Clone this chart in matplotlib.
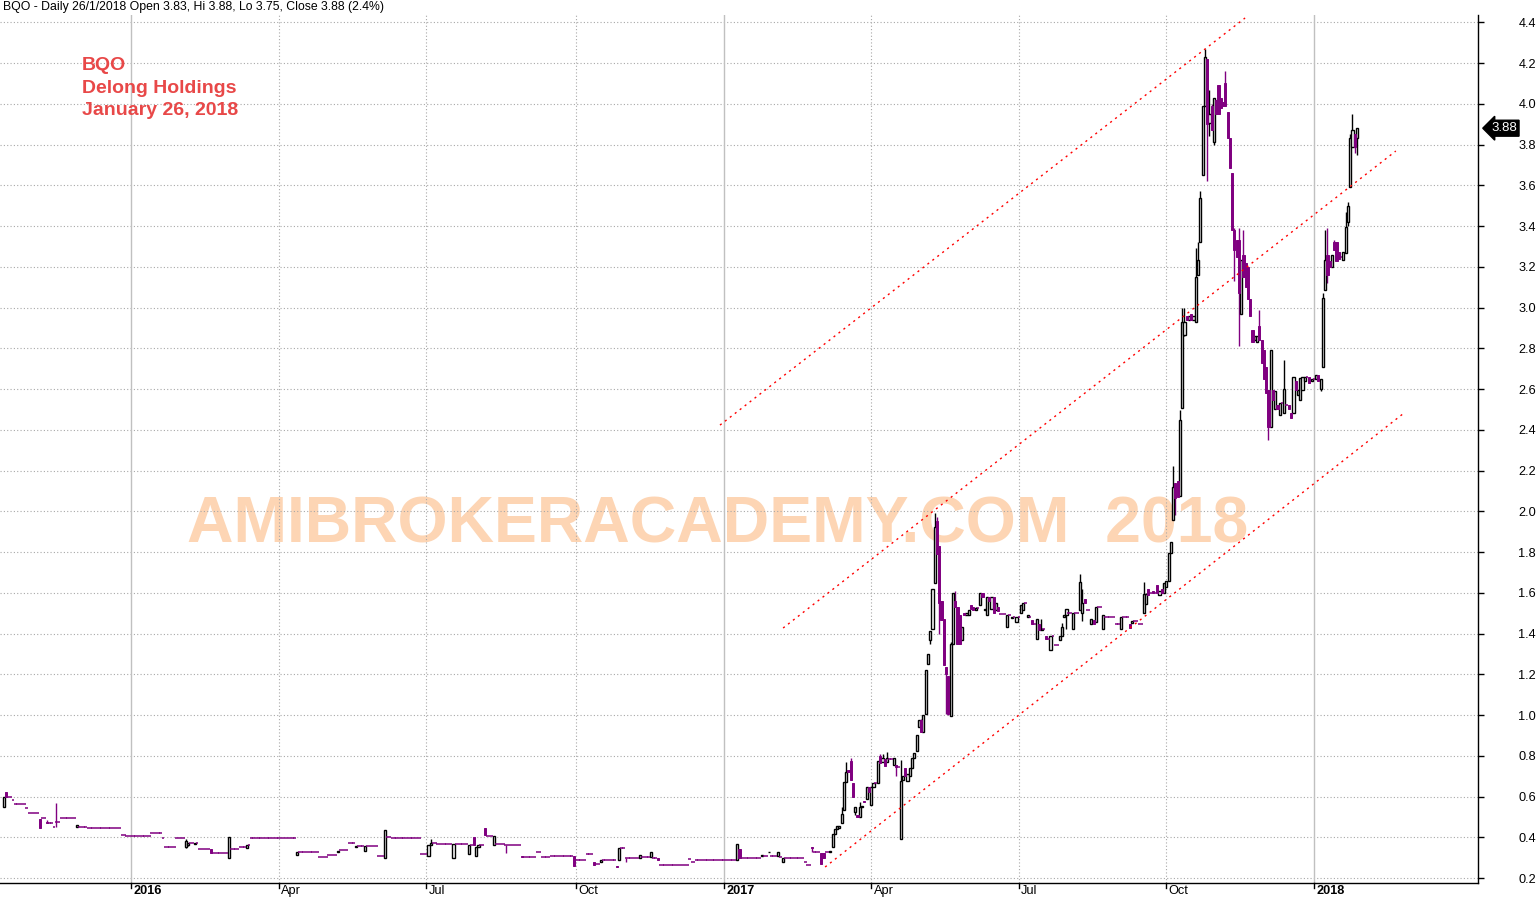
import numpy as np
import pandas as pd
import matplotlib
matplotlib.use("Agg")
import matplotlib.pyplot as plt
from matplotlib.transforms import blended_transform_factory, ScaledTranslation

plt.rcParams["font.family"] = ["Liberation Sans", "DejaVu Sans"]

ticker = "BQO"
company = "Delong Holdings"
first_day = "2015-10-15"
last_day = "2018-01-26"

# candles: (trading day index, open, high, low, close)
bars_2015 = [
    (0, .55, .60, .55, .60), (1, .62, .62, .60, .60), (16, .49, .49, .445, .445),
    (19, .475, .485, .47, .47), (23, .475, .57, .45, .475), (32, .45, .46, .45, .46),
]
bars_2016 = [
    (80, .35, .39, .345, .38), (81, .36, .37, .355, .37), (84, .365, .37, .365, .37),
    (91, .342, .342, .321, .321), (99, .30, .40, .30, .40), (107, .345, .36, .345, .36),
    (129, .313, .327, .313, .327), (147, .33, .335, .33, .335), (155, .35, .357, .35, .357),
    (159, .335, .357, .335, .357), (168, .30, .435, .30, .435), (187, .31, .36, .31, .36),
    (188, .36, .39, .36, .37), (198, .30, .366, .30, .366), (205, .32, .36, .32, .36),
    (207, .40, .40, .36, .36), (208, .31, .35, .31, .35), (209, .35, .36, .35, .36),
    (212, .445, .445, .41, .41), (216, .36, .408, .36, .408), (221, .36, .36, .325, .36),
    (228, .31, .31, .305, .305), (251, .31, .31, .26, .26), (260, .28, .28, .264, .264),
    (263, .278, .288, .278, .288), (270, .26, .26, .252, .252), (271, .288, .347, .288, .347),
    (274, .297, .297, .28, .297), (280, .297, .313, .297, .313), (285, .302, .328, .302, .328),
    (288, .297, .297, .288, .288),
]
bars_2017a = [
    (323, .288, .366, .288, .366), (324, .34, .34, .297, .297), (334, .31, .313, .31, .313),
    (337, .328, .33, .328, .33), (341, .31, .328, .31, .328), (343, .28, .297, .28, .297),
    (356, .35, .35, .33, .345), (360, .325, .325, .27, .27), (361, .325, .325, .30, .30),
    (364, .33, .335, .33, .335), (365, .353, .415, .353, .415), (366, .415, .44, .415, .44),
    (367, .44, .455, .44, .455), (368, .445, .455, .445, .455), (369, .47, .55, .47, .514),
    (370, .533, .672, .533, .672), (371, .672, .77, .672, .72), (372, .73, .73, .72, .72),
    (373, .775, .79, .68, .68), (374, .665, .665, .60, .60), (375, .525, .547, .51, .547),
    (376, .51, .51, .50, .50), (377, .50, .572, .50, .547), (378, .547, .555, .547, .555),
    (379, .58, .58, .575, .575), (380, .588, .647, .588, .647), (381, .647, .647, .62, .62),
    (382, .558, .647, .558, .647), (383, .647, .665, .647, .665), (385, .665, .775, .665, .775),
    (386, .80, .81, .762, .762), (387, .77, .81, .77, .79), (388, .786, .786, .75, .75),
    (389, .77, .82, .77, .79), (392, .754, .79, .754, .79), (393, .755, .755, .70, .745),
    (395, .39, .78, .39, .675), (396, .68, .70, .68, .70), (397, .74, .74, .70, .70),
    (398, .675, .71, .675, .71), (399, .70, .74, .70, .74), (400, .74, .79, .74, .79),
    (401, .79, .815, .79, .815), (402, .825, .90, .825, .90), (403, .94, .975, .94, .975),
    (404, .975, .98, .915, .915), (405, .915, 1.0, .915, 1.0), (406, 1.007, 1.22, 1.007, 1.22),
    (407, 1.25, 1.30, 1.25, 1.30), (408, 1.367, 1.41, 1.35, 1.41), (409, 1.42, 1.62, 1.42, 1.62),
    (410, 1.646, 1.99, 1.646, 1.925), (411, 1.95, 1.97, 1.79, 1.79), (412, 1.83, 1.83, 1.40, 1.55),
    (413, 1.56, 1.56, 1.465, 1.465), (414, 1.47, 1.47, 1.245, 1.245), (415, 1.236, 1.236, 1.007, 1.203),
    (416, 1.19, 1.19, 1.0, 1.007), (417, .994, 1.36, .994, 1.35), (418, 1.35, 1.60, 1.35, 1.597),
    (419, 1.56, 1.61, 1.53, 1.53), (420, 1.53, 1.53, 1.35, 1.35), (421, 1.49, 1.49, 1.35, 1.35),
    (422, 1.367, 1.43, 1.367, 1.43), (423, 1.50, 1.50, 1.49, 1.49), (424, 1.49, 1.50, 1.49, 1.50),
    (425, 1.49, 1.515, 1.49, 1.515), (426, 1.54, 1.54, 1.52, 1.52), (427, 1.53, 1.53, 1.515, 1.515),
    (428, 1.515, 1.53, 1.515, 1.525), (430, 1.54, 1.597, 1.54, 1.597), (431, 1.597, 1.60, 1.58, 1.58),
    (432, 1.515, 1.52, 1.515, 1.52), (433, 1.49, 1.58, 1.49, 1.58), (434, 1.58, 1.58, 1.56, 1.56),
    (435, 1.52, 1.58, 1.52, 1.58), (436, 1.58, 1.58, 1.50, 1.50), (437, 1.515, 1.55, 1.515, 1.55),
    (438, 1.53, 1.53, 1.51, 1.51), (442, 1.43, 1.49, 1.43, 1.49), (444, 1.475, 1.48, 1.475, 1.48),
    (446, 1.455, 1.48, 1.455, 1.48),
]
bars_2017b = [
    (448, 1.50, 1.54, 1.50, 1.54), (449, 1.515, 1.55, 1.515, 1.55), (451, 1.48, 1.49, 1.48, 1.49),
    (453, 1.465, 1.465, 1.445, 1.445), (455, 1.375, 1.47, 1.375, 1.47), (456, 1.445, 1.445, 1.415, 1.415),
    (457, 1.415, 1.47, 1.415, 1.42), (459, 1.39, 1.39, 1.375, 1.375), (461, 1.32, 1.39, 1.32, 1.39),
    (465, 1.367, 1.39, 1.367, 1.39), (466, 1.39, 1.45, 1.39, 1.433), (467, 1.48, 1.49, 1.48, 1.49),
    (468, 1.49, 1.52, 1.42, 1.52), (471, 1.42, 1.50, 1.42, 1.50), (474, 1.515, 1.69, 1.515, 1.654),
    (475, 1.50, 1.62, 1.46, 1.55), (476, 1.57, 1.57, 1.55, 1.55), (479, 1.445, 1.47, 1.445, 1.47),
    (480, 1.465, 1.465, 1.445, 1.445), (481, 1.455, 1.53, 1.455, 1.53), (484, 1.42, 1.49, 1.42, 1.49),
    (492, 1.42, 1.48, 1.42, 1.48), (496, 1.445, 1.445, 1.425, 1.425), (497, 1.45, 1.46, 1.45, 1.46),
    (502, 1.50, 1.655, 1.50, 1.596), (503, 1.545, 1.60, 1.545, 1.596), (504, 1.62, 1.62, 1.59, 1.59),
    (506, 1.61, 1.61, 1.60, 1.60), (508, 1.64, 1.64, 1.60, 1.60), (509, 1.59, 1.61, 1.59, 1.61),
    (510, 1.62, 1.62, 1.60, 1.60), (511, 1.60, 1.65, 1.60, 1.65), (512, 1.63, 1.66, 1.63, 1.66),
    (513, 1.656, 1.795, 1.656, 1.795), (514, 1.795, 1.85, 1.795, 1.85), (515, 1.958, 2.22, 1.958, 2.12),
    (516, 2.14, 2.14, 1.98, 2.065), (517, 2.15, 2.15, 2.07, 2.07), (518, 2.073, 2.497, 2.073, 2.448),
    (519, 2.505, 3.0, 2.505, 2.93), (520, 2.865, 3.0, 2.86, 2.93), (521, 2.96, 2.96, 2.94, 2.94),
    (522, 2.94, 2.96, 2.94, 2.96), (523, 2.97, 2.97, 2.94, 2.94), (524, 2.94, 2.96, 2.94, 2.96),
    (525, 2.93, 3.29, 2.93, 3.148), (526, 3.16, 3.32, 3.16, 3.233), (527, 3.32, 3.57, 3.32, 3.536),
    (528, 3.65, 3.99, 3.65, 3.99), (529, 3.99, 4.27, 3.99, 4.23), (530, 4.22, 4.22, 3.62, 3.90),
    (531, 3.905, 4.068, 3.84, 3.95), (532, 3.99, 4.00, 3.87, 3.87), (533, 3.81, 4.03, 3.80, 4.03),
    (534, 4.02, 4.02, 3.95, 3.95), (535, 4.09, 4.09, 3.95, 3.95), (536, 4.03, 4.03, 3.98, 3.98),
    (537, 4.01, 4.01, 3.99, 3.99), (538, 4.10, 4.16, 3.99, 3.99), (539, 3.96, 3.96, 3.83, 3.83),
    (540, 3.83, 3.83, 3.683, 3.683), (541, 3.66, 3.66, 3.38, 3.38), (542, 3.38, 3.39, 3.13, 3.28),
    (543, 3.33, 3.33, 3.25, 3.25), (544, 3.33, 3.39, 2.81, 3.07), (545, 2.97, 3.233, 2.97, 3.233),
    (546, 3.26, 3.38, 3.15, 3.15), (547, 3.22, 3.22, 3.10, 3.10), (548, 3.2, 3.2, 3.04, 3.04),
    (549, 3.04, 3.04, 2.96, 2.96), (550, 2.89, 2.89, 2.83, 2.83), (551, 2.84, 2.86, 2.84, 2.86),
    (552, 2.83, 2.86, 2.83, 2.86), (553, 2.91, 2.99, 2.84, 2.84), (554, 2.84, 2.84, 2.73, 2.73),
    (555, 2.79, 2.79, 2.65, 2.65), (556, 2.71, 2.71, 2.58, 2.58), (557, 2.595, 2.595, 2.35, 2.415),
    (558, 2.415, 2.79, 2.415, 2.79), (559, 2.595, 2.595, 2.546, 2.546), (560, 2.50, 2.59, 2.50, 2.59),
    (561, 2.52, 2.52, 2.50, 2.50), (562, 2.47, 2.53, 2.47, 2.53), (564, 2.48, 2.74, 2.48, 2.60),
    (566, 2.52, 2.52, 2.50, 2.50), (567, 2.48, 2.48, 2.456, 2.456), (568, 2.48, 2.66, 2.48, 2.66),
    (569, 2.64, 2.64, 2.595, 2.595), (570, 2.57, 2.595, 2.57, 2.595), (571, 2.546, 2.652, 2.546, 2.652),
    (572, 2.595, 2.66, 2.595, 2.66), (573, 2.64, 2.66, 2.64, 2.66), (575, 2.66, 2.66, 2.63, 2.63),
    (576, 2.64, 2.65, 2.64, 2.65), (578, 2.65, 2.67, 2.65, 2.67), (579, 2.67, 2.67, 2.64, 2.64),
    (580, 2.60, 2.65, 2.59, 2.65), (581, 2.71, 3.07, 2.71, 3.045), (582, 3.086, 3.38, 3.086, 3.233),
    (583, 3.26, 3.39, 3.12, 3.16), (584, 3.23, 3.23, 3.20, 3.20), (585, 3.20, 3.26, 3.20, 3.26),
    (586, 3.323, 3.33, 3.28, 3.28), (587, 3.32, 3.32, 3.23, 3.23), (588, 3.27, 3.27, 3.24, 3.24),
    (590, 3.233, 3.27, 3.233, 3.27), (591, 3.266, 3.47, 3.266, 3.397), (592, 3.421, 3.52, 3.40, 3.50),
    (593, 3.593, 3.85, 3.593, 3.83), (594, 3.79, 3.95, 3.79, 3.87), (595, 3.85, 3.85, 3.76, 3.79),
    (596, 3.83, 3.88, 3.75, 3.88),
]

# days that traded at a single price: (trading day index, price)
flats_2015 = [
    (2, .60), (4, .585), (5, .565), (10, .545), (11, .52), (17, .495), (22, .45),
    (25, .495), (33, .45), (37, .445), (52, .41), (54, .405),
]
flats_2016 = [
    (65, .42), (70, .395), (71, .35), (76, .395), (83, .37), (86, .342), (92, .321),
    (100, .34), (104, .35), (108, .36), (109, .395), (130, .328), (139, .302), (143, .313),
    (148, .337), (152, .37), (160, .357), (165, .31), (169, .40), (171, .395), (184, .32),
    (189, .37), (191, .366), (213, .408), (217, .366), (229, .302), (235, .33), (237, .302),
    (241, .31), (252, .288), (257, .32), (261, .27), (264, .288), (272, .347), (281, .302),
    (286, .297), (289, .262), (302, .291), (303, .278), (305, .288),
]
flats_2017 = [
    (325, .297), (335, .31), (338, .31), (342, .302), (344, .297), (353, .278), (354, .264),
    (357, .33), (362, .33), (384, .665), (390, .784), (394, .745), (429, 1.525), (439, 1.498),
    (443, 1.49), (445, 1.48), (447, 1.48), (450, 1.55), (452, 1.48), (454, 1.445), (458, 1.42),
    (460, 1.375), (462, 1.39), (463, 1.345), (469, 1.50), (472, 1.50), (477, 1.515),
    (482, 1.53), (485, 1.48), (490, 1.445), (493, 1.48), (498, 1.46), (500, 1.445),
    (505, 1.60), (507, 1.60), (563, 2.53), (565, 2.52), (574, 2.66), (577, 2.65), (589, 3.25),
]

# trend channel drawn on the chart: start/end (trading day index, price)
channel_day0 = [315.4, 343.2, 361.7]
channel_px0 = [2.423, 1.427, 0.254]
channel_day1 = [546.7, 613.1, 616.7]
channel_px1 = [4.421, 3.768, 2.482]

PURPLE = "#800080"

# ---- build daily series ----
dates = pd.bdate_range(first_day, last_day)
n = len(dates)
o = np.full(n, np.nan)
h = np.full(n, np.nan)
l = np.full(n, np.nan)
c = np.full(n, np.nan)
for d, p in flats_2015 + flats_2016 + flats_2017:
    o[d] = h[d] = l[d] = c[d] = p
for d, op, hi, lo, cl in bars_2015 + bars_2016 + bars_2017a + bars_2017b:
    o[d], h[d], l[d], c[d] = op, hi, lo, cl
# days without trades carry the previous close
for i in range(1, n):
    if np.isnan(c[i]):
        o[i] = h[i] = l[i] = c[i] = c[i - 1]

x = np.arange(n)
up = c > o
dn = c < o
fl = c == o

fig = plt.figure(figsize=(15.4, 8.99), dpi=100)
ax = fig.add_axes([0, 16 / 899, 1478 / 1540, 868 / 899])
ax.set_xlim(-1.76, 649.3)
ax.set_ylim(0.1755, 4.4356)

# watermark
ax.text(0.1265, 0.4124, "AMIBROKERACADEMY.COM  2018", transform=ax.transAxes,
        fontsize=46.4, fontweight="bold", color="#FDD5B4", ha="left", va="center", zorder=0)

# grid
yt = np.round(np.arange(0.2, 4.41, 0.2), 1)
ax.set_yticks(yt)
for v in yt:
    ax.axhline(v, color="#a8a8a8", lw=0.8, ls=(0, (1, 2)), zorder=1)

q_starts = pd.date_range("2016-01-01", "2018-01-01", freq="QS")
q_pos = [int(dates.searchsorted(q)) for q in q_starts]
trans_x = blended_transform_factory(ax.transData, ax.transAxes)
shift = ScaledTranslation(2.5 / 100, -2 / 100, fig.dpi_scale_trans)
for q, p in zip(q_starts, q_pos):
    if q.month == 1:
        ax.axvline(p, color="#c0c0c0", lw=1, zorder=1)
        lab, wt = str(q.year), "bold"
    else:
        ax.axvline(p, color="#a8a8a8", lw=0.8, ls=(0, (1, 2)), zorder=1)
        lab, wt = q.strftime("%b"), "normal"
    ax.plot([p, p], [0, -0.006], color="black", lw=1, transform=trans_x, clip_on=False)
    ax.text(p, 0, lab, transform=trans_x + shift, ha="left", va="top",
            fontsize=9.2, fontweight=wt)
ax.set_xticks([])

# candles
ax.vlines(x[up], l[up], h[up], color="black", lw=1.0, zorder=3)
ax.vlines(x[dn | fl], l[dn | fl], h[dn | fl], color=PURPLE, lw=1.0, zorder=3)
ax.bar(x[up], c[up] - o[up], bottom=o[up], width=0.95, facecolor="white",
       edgecolor="black", linewidth=1.0, zorder=4)
ax.bar(x[dn], o[dn] - c[dn], bottom=c[dn], width=0.95, facecolor=PURPLE,
       edgecolor=PURPLE, linewidth=0.7, zorder=4)
ax.hlines(c[fl], x[fl] - 0.55, x[fl] + 0.55, color=PURPLE, lw=1.1, zorder=4)

# channel
for d0, p0, d1, p1 in zip(channel_day0, channel_px0, channel_day1, channel_px1):
    ax.plot([d0, d1], [p0, p1], color="red", lw=1, ls=(0, (1.5, 3)), zorder=5)

# axes styling
for s in ["left", "top"]:
    ax.spines[s].set_visible(False)
ax.spines["right"].set_linewidth(1)
ax.spines["bottom"].set_linewidth(1)
ax.yaxis.tick_right()
ax.tick_params(axis="y", direction="out", length=4, width=1, pad=25, labelsize=9.2)
ax.set_yticklabels([f"{v:.1f}" for v in yt])

# last price marker
trans_y = blended_transform_factory(ax.transAxes, ax.transData)
ax.text(1.009, c[-1], f"{c[-1]:.2f}", transform=trans_y, ha="left", va="center",
        fontsize=9.5, color="white", clip_on=False,
        bbox=dict(boxstyle="larrow,pad=0.15", fc="black", ec="black"))

# header and labels
chg = (c[-1] / c[-2] - 1) * 100
d = dates[-1]
fig.text(3 / 1540, 1 - 7 / 899,
         f"{ticker} - Daily {d.day}/{d.month}/{d.year} Open {o[-1]:.2f}, Hi {h[-1]:.2f}, "
         f"Lo {l[-1]:.2f}, Close {c[-1]:.2f} ({chg:.1f}%)",
         ha="left", va="center", fontsize=8.85)
for txt, yb in zip([ticker, company, d.strftime("%B %d, %Y")], [70.5, 92.7, 115]):
    fig.text(82 / 1540, 1 - yb / 899, txt, ha="left", va="baseline", fontsize=14,
             fontweight="bold", color="#E84848")

fig.savefig("out.png", dpi=100, facecolor="white")
